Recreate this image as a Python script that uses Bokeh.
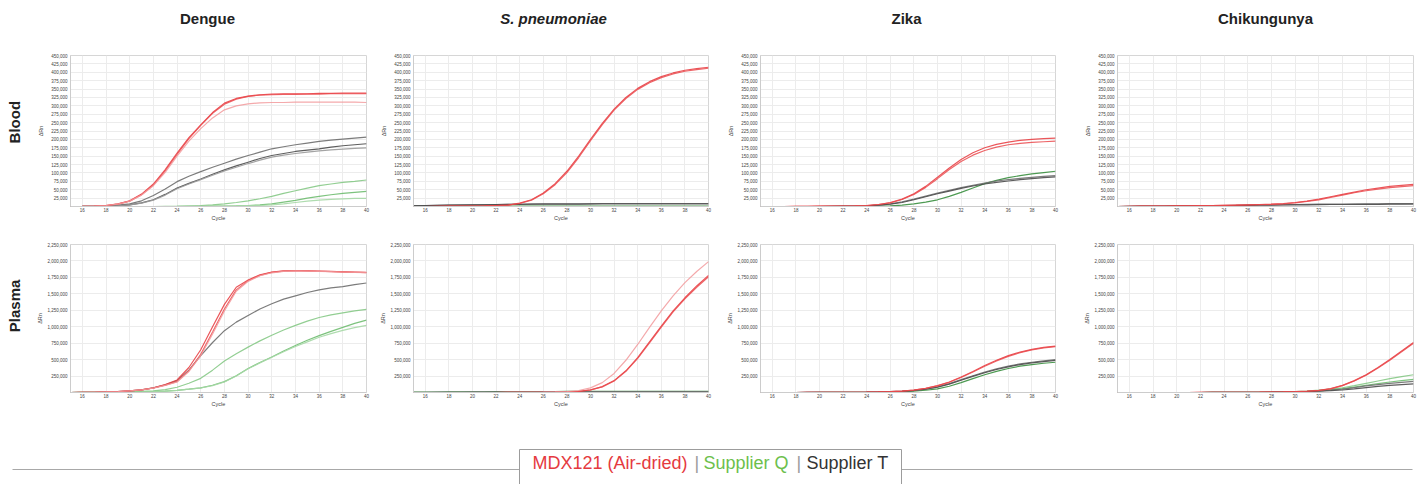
import numpy as np
from bokeh.plotting import figure
from bokeh.layouts import column, row
from bokeh.models import Range1d, FixedTicker, NumeralTickFormatter
from bokeh.embed import file_html
from bokeh.resources import INLINE
from bokeh.core.properties import value

# ---------------- data ----------------
cycles = list(range(15, 41))
x_ticks = list(range(16, 41, 2))
blood_y_ticks = list(range(25000, 450001, 25000))
plasma_y_ticks = list(range(250000, 2250001, 250000))

targets = ["Dengue", "S. pneumoniae", "Zika", "Chikungunya"]
samples = ["Blood", "Plasma"]
legend_labels = ["MDX121 (Air-dried)", "Supplier Q", "Supplier T"]

# ΔRn in thousands, one value per cycle 15..40
# ---- Blood ----
dengue_blood_mdx = [
    [0, 0.5, 1.5, 3, 8, 17, 37, 67, 110, 159, 205, 243, 280, 308, 322, 329, 333, 335, 336, 336, 336, 337, 337, 338, 338, 338],
    [0, 0.5, 1.5, 3, 7, 16, 35, 64, 106, 155, 202, 242, 278, 305, 320, 328, 332, 333, 334, 334, 335, 335, 336, 336, 336, 336],
    [0, 0.5, 1.5, 3, 7, 16, 34, 62, 102, 150, 195, 232, 264, 288, 300, 306, 309, 310, 310, 311, 311, 311, 311, 311, 311, 310],
]
dengue_blood_q = [
    [0, 0, 0, 0, 0, 0, 0, 0, 0.5, 1, 2, 3, 5, 8, 12, 17, 23, 30, 39, 47, 55, 62, 67, 72, 75, 79],
    [0, 0, 0, 0, 0, 0, 0, 0, 0, 0, 0, 0.5, 1, 1.5, 2, 3, 5, 8, 13, 18, 25, 30, 35, 39, 42, 45],
    [0, 0, 0, 0, 0, 0, 0, 0, 0, 0, 0, 0.5, 1, 1.5, 2, 2.5, 3, 5, 8, 12, 16, 19, 21, 23, 24, 24],
]
dengue_blood_t = [
    [0, 0.3, 1, 2, 4, 8, 17, 33, 52, 74, 90, 104, 117, 129, 141, 152, 162, 172, 178, 184, 189, 194, 198, 201, 204, 207],
    [0, 0.2, 0.5, 1, 2, 5, 11, 20, 36, 55, 69, 82, 96, 109, 121, 132, 143, 152, 158, 164, 168, 172, 177, 181, 184, 187],
    [0, 0.2, 0.5, 1, 2, 5, 10, 19, 34, 53, 67, 80, 93, 106, 117, 128, 138, 147, 153, 158, 162, 166, 169, 171, 173, 175],
]
spn_blood_mdx = [
    [0, 0, 0.5, 1, 1, 1.5, 2, 3, 4, 10, 20, 40, 68, 105, 150, 200, 248, 290, 325, 352, 372, 387, 398, 406, 411, 415],
    [0, 0, 0.5, 1, 1, 1.5, 2, 3, 4, 9, 19, 38, 65, 101, 146, 196, 244, 287, 322, 349, 369, 384, 395, 403, 408, 412],
]
spn_blood_q = [
    [1, 1, 1, 1, 1, 1, 1, 1, 1, 1, 1, 1, 1, 1, 1, 1, 1, 1, 1, 1, 1, 1, 1, 1, 1, 1],
]
spn_blood_t = [
    [3, 3, 4, 4, 5, 5, 6, 6, 7, 7, 7, 8, 8, 8, 8, 8, 9, 9, 9, 9, 9, 9, 9, 9, 9, 9],
    [2, 3, 3, 4, 4, 5, 5, 6, 6, 6, 7, 7, 7, 7, 7, 8, 8, 8, 8, 8, 8, 8, 8, 8, 8, 8],
]
zika_blood_mdx = [
    [0, 0, 0, 0.5, 0.5, 1, 1, 1.5, 2, 3, 6, 12, 22, 38, 60, 87, 115, 140, 160, 175, 185, 192, 197, 200, 202, 204],
    [0, 0, 0, 0.5, 0.5, 1, 1, 1.5, 2, 3, 6, 11, 21, 36, 57, 83, 110, 134, 153, 167, 177, 184, 188, 191, 193, 195],
]
zika_blood_q = [
    [0, 0, 0, 0, 0, 0, 0, 0, 0, 0.5, 1, 2, 4, 8, 13, 20, 30, 42, 55, 68, 78, 86, 92, 97, 101, 105],
]
zika_blood_t = [
    [0, 0, 0, 0, 0, 0, 0.5, 1, 1.5, 2, 4, 8, 14, 22, 31, 40, 48, 56, 63, 70, 76, 80, 84, 87, 90, 92],
    [0, 0, 0, 0, 0, 0, 0.5, 1, 1.5, 2, 4, 7, 12, 20, 29, 38, 46, 54, 61, 67, 72, 76, 80, 83, 86, 88],
]
chik_blood_mdx = [
    [0, 0.5, 1, 1, 1.5, 2, 2, 2.5, 3, 3.5, 4, 5, 6, 7, 9, 12, 16, 22, 29, 36, 43, 50, 55, 60, 63, 66],
    [0, 0.5, 1, 1, 1.5, 2, 2, 2.5, 3, 3.5, 4, 4.5, 5.5, 6.5, 8, 11, 15, 20, 27, 34, 41, 47, 52, 56, 59, 62],
]
chik_blood_q = [
    [0, 0, 0, 0, 0, 0, 0, 0, 0, 0, 0, 0, 0, 0, 0, 0, 0, 0, 0, 0, 0, 0, 0, 0, 0, 0],
]
chik_blood_t = [
    [0, 0.5, 1, 1, 1.5, 2, 2, 2.5, 3, 3, 3.5, 4, 4.5, 5, 5.5, 6, 6.5, 7, 7, 7.5, 8, 8, 8, 8.5, 8.5, 9],
    [0, 0.5, 1, 1, 1.5, 2, 2, 2, 2.5, 3, 3, 3.5, 4, 4, 4.5, 5, 5, 5.5, 6, 6, 6, 6.5, 6.5, 7, 7, 7],
]
# ---- Plasma ----
dengue_plasma_mdx = [
    [0, 2, 4, 8, 14, 24, 40, 70, 120, 190, 380, 650, 1000, 1340, 1600, 1710, 1790, 1830, 1850, 1855, 1850, 1845, 1840, 1835, 1830, 1825],
    [0, 2, 4, 8, 14, 24, 40, 68, 112, 165, 330, 580, 920, 1270, 1560, 1700, 1780, 1825, 1845, 1850, 1848, 1843, 1838, 1833, 1828, 1823],
    [0, 2, 4, 8, 14, 24, 40, 66, 108, 160, 320, 560, 890, 1240, 1540, 1690, 1775, 1820, 1842, 1848, 1846, 1842, 1837, 1832, 1827, 1822],
]
dengue_plasma_q = [
    [0, 1, 2, 4, 6, 10, 16, 26, 45, 80, 140, 215, 340, 480, 590, 690, 785, 870, 950, 1020, 1085, 1140, 1180, 1210, 1240, 1265],
    [0, 1, 1, 2, 3, 5, 8, 13, 20, 32, 50, 70, 110, 165, 255, 365, 455, 540, 630, 715, 795, 865, 930, 990, 1050, 1100],
    [0, 1, 1, 2, 3, 5, 8, 13, 20, 32, 50, 68, 105, 160, 250, 360, 450, 535, 620, 700, 770, 840, 895, 945, 985, 1020],
]
dengue_plasma_t = [
    [0, 2, 4, 8, 14, 24, 40, 70, 115, 180, 340, 560, 760, 940, 1070, 1170, 1270, 1350, 1420, 1470, 1520, 1560, 1590, 1610, 1640, 1665],
]
spn_plasma_mdx = [
    [0, 0, 0, 0, 0, 0, 0, 0, 1, 2, 3, 4, 6, 10, 18, 40, 90, 180, 330, 530, 770, 1010, 1240, 1440, 1620, 1780],
    [0, 0, 0, 0, 0, 0, 0, 0, 1, 2, 3, 4, 6, 10, 17, 38, 86, 174, 322, 520, 755, 995, 1225, 1425, 1600, 1760],
    [0, 0, 0, 0, 0, 0, 0, 0, 1, 2, 3, 5, 8, 15, 30, 70, 150, 290, 490, 730, 990, 1240, 1470, 1670, 1840, 1990],
]
spn_plasma_q = [
    [5, 6, 7, 8, 9, 10, 11, 12, 13, 14, 14, 15, 15, 16, 16, 16, 17, 17, 17, 17, 18, 18, 18, 18, 18, 18],
]
spn_plasma_t = [
    [3, 4, 5, 6, 7, 8, 9, 10, 10, 11, 11, 12, 12, 12, 13, 13, 13, 13, 13, 14, 14, 14, 14, 14, 14, 14],
]
zika_plasma_mdx = [
    [0, 0, 0, 0, 1, 1, 2, 3, 4, 6, 9, 14, 22, 38, 65, 105, 160, 235, 320, 410, 490, 560, 615, 655, 685, 705],
    [0, 0, 0, 0, 1, 1, 2, 3, 4, 6, 9, 14, 21, 36, 62, 100, 155, 228, 312, 400, 480, 550, 606, 648, 678, 698],
]
zika_plasma_q = [
    [0, 0, 0, 0, 0, 1, 1, 2, 3, 4, 6, 9, 14, 22, 34, 55, 95, 150, 210, 270, 320, 365, 400, 425, 445, 460],
]
zika_plasma_t = [
    [0, 0, 0, 0, 1, 1, 2, 3, 4, 6, 9, 13, 20, 32, 52, 85, 135, 195, 255, 310, 360, 400, 435, 460, 482, 500],
    [0, 0, 0, 0, 1, 1, 2, 3, 4, 6, 9, 13, 19, 30, 49, 80, 128, 186, 245, 300, 350, 390, 425, 450, 470, 488],
]
chik_plasma_mdx = [
    [0, 0, 0, 0, 0, 0, 0, 1, 1, 2, 3, 4, 5, 7, 10, 14, 20, 32, 58, 108, 180, 270, 380, 500, 630, 760],
    [0, 0, 0, 0, 0, 0, 0, 1, 1, 2, 3, 4, 5, 7, 10, 14, 19, 30, 55, 104, 175, 264, 372, 492, 620, 748],
]
chik_plasma_q = [
    [0, 0, 0, 0, 0, 0, 0, 0, 1, 1, 2, 3, 4, 6, 9, 13, 20, 35, 52, 72, 105, 140, 175, 210, 240, 270],
    [0, 0, 0, 0, 0, 0, 0, 0, 1, 1, 2, 3, 4, 6, 8, 11, 16, 26, 40, 58, 84, 110, 135, 160, 180, 200],
]
chik_plasma_t = [
    [0, 0, 0, 0, 0, 0, 0, 0, 1, 1, 2, 3, 4, 5, 7, 10, 15, 24, 36, 50, 75, 100, 120, 140, 155, 170],
    [0, 0, 0, 0, 0, 0, 0, 0, 1, 1, 2, 3, 4, 5, 6, 8, 12, 19, 28, 38, 56, 75, 92, 108, 120, 132],
]

blood_groups = [
    (dengue_blood_mdx, dengue_blood_q, dengue_blood_t),
    (spn_blood_mdx, spn_blood_q, spn_blood_t),
    (zika_blood_mdx, zika_blood_q, zika_blood_t),
    (chik_blood_mdx, chik_blood_q, chik_blood_t),
]
plasma_groups = [
    (dengue_plasma_mdx, dengue_plasma_q, dengue_plasma_t),
    (spn_plasma_mdx, spn_plasma_q, spn_plasma_t),
    (zika_plasma_mdx, zika_plasma_q, zika_plasma_t),
    (chik_plasma_mdx, chik_plasma_q, chik_plasma_t),
]

# ---------------- styling ----------------
FONT = "Liberation Sans"
RED = ["#e8383d", "#ea4a4e", "#f29a9c"]
GREEN_LIGHT = ["#86c986", "#6fbd70", "#a6d8a6"]
GREEN_DARK = ["#3a8f3f", "#4fa052", "#6fbd70"]
BLACK = ["#6e6e6e", "#4c4c4c", "#9a9a9a"]

blood_green = [GREEN_LIGHT, GREEN_DARK, GREEN_DARK, GREEN_LIGHT]
plasma_green = [GREEN_LIGHT, GREEN_DARK, GREEN_DARK, GREEN_LIGHT]

# layout geometry: (min_border_left, frame_width, min_border_right)
cols_geom = [(46, 296, 5), (42, 295, 10), (42, 295, 20), (42, 296, 11)]
LABEL_W = 24
TOTAL_W = 1424


def make_panel(groups, geom, ymax, yticks, frame_h, mbt, mbb, ylab_standoff, greens):
    mbl, fw, mbr = geom
    p = figure(frame_width=fw, frame_height=frame_h,
               min_border_left=mbl, min_border_right=mbr,
               min_border_top=mbt, min_border_bottom=mbb,
               x_range=Range1d(15, 40), y_range=Range1d(0, ymax),
               toolbar_location=None, output_backend="svg")
    mdx, q, t = groups
    for i, c in enumerate(q):
        p.line(cycles, [v * 1000 for v in c], line_color=greens[i % 3], line_width=1.2, line_alpha=0.9)
    for i, c in enumerate(t):
        p.line(cycles, [v * 1000 for v in c], line_color=BLACK[i % 3], line_width=1.2, line_alpha=0.9)
    for i, c in enumerate(mdx):
        p.line(cycles, [v * 1000 for v in c], line_color=RED[i % 3], line_width=1.2, line_alpha=0.85)

    p.xaxis.ticker = FixedTicker(ticks=x_ticks)
    p.yaxis.ticker = FixedTicker(ticks=yticks)
    p.yaxis.formatter = NumeralTickFormatter(format="0,0")
    p.xaxis.axis_label = "Cycle"
    p.yaxis.axis_label = "ΔRn"
    for ax in (p.xaxis, p.yaxis):
        ax.major_label_text_font = FONT
        ax.major_label_text_font_size = "4.5px"
        ax.major_label_text_color = "#444444"
        ax.axis_label_text_font = FONT
        ax.axis_label_text_font_size = "5.5px"
        ax.axis_label_text_font_style = "normal"
        ax.axis_label_text_color = "#444444"
        ax.major_tick_out = 0
        ax.major_tick_in = 0
        ax.minor_tick_out = 0
        ax.minor_tick_in = 0
        ax.axis_line_color = "#cccccc"
    p.xaxis.major_label_standoff = 1
    p.xaxis.axis_label_standoff = 0
    p.yaxis.major_label_standoff = 3
    p.yaxis.axis_label_standoff = ylab_standoff
    p.grid.grid_line_color = "#ececec"
    p.outline_line_color = "#d6d6d6"
    p.background_fill_color = "white"
    p.border_fill_color = "white"
    return p


def text_fig(w, h):
    p = figure(width=w, height=h, x_range=Range1d(0, w), y_range=Range1d(0, h),
               min_border=0, toolbar_location=None, output_backend="svg",
               x_axis_type=None, y_axis_type=None)
    p.grid.visible = False
    p.outline_line_color = None
    return p


# title strip
TITLE_H = 38
title_fig = text_fig(TOTAL_W, TITLE_H)
title_x = [207, 553, 906, 1265]
for i, t in enumerate(targets):
    style = "bold italic" if t.startswith("S.") else "bold"
    title_fig.text(x=[title_x[i]], y=[TITLE_H - 18], text=[t], text_font=value(FONT),
                   text_font_size="15px", text_font_style=style, text_align="center",
                   text_baseline="middle", text_color="#222222")

ROW_H = 188
rows = []
for r, (groups_row, ymax, yticks, fh, mbt, mbb, yls, label_y, greens) in enumerate([
        (blood_groups, 450000, blood_y_ticks, 151, 17, 20, 4, 105, blood_green),
        (plasma_groups, 2250000, plasma_y_ticks, 148, 18, 22, 1, 110, plasma_green)]):
    lab = text_fig(LABEL_W, ROW_H)
    lab.text(x=[14], y=[label_y], text=[samples[r]], angle=np.pi / 2, text_font=value(FONT),
             text_font_size="15px", text_font_style="bold", text_align="center",
             text_baseline="middle", text_color="#222222")
    panels = [make_panel(groups_row[c], cols_geom[c], ymax, yticks, fh, mbt, mbb, yls, greens[c])
              for c in range(4)]
    rows.append(row([lab] + panels, spacing=0))

# legend strip (reference y 414..484, data y measured upward from the bottom)
LEG_H = 70
leg = text_fig(TOTAL_W, LEG_H)
box_l, box_r, box_top = 519, 901, 35
line_y = 15
leg.segment(x0=[12, box_r], y0=[line_y, line_y], x1=[box_l, 1412], y1=[line_y, line_y],
            line_color="#a8a8a8", line_width=1)
leg.quad(left=[box_l], right=[box_r], bottom=[-20], top=[box_top], fill_color="white",
         line_color="#9c9c9c", line_width=1)
parts = [(legend_labels[0], "#e53a3f", 532), ("|", "#9a9a9a", 694),
         (legend_labels[1], "#6dbf4c", 703), ("|", "#9a9a9a", 796),
         (legend_labels[2], "#333333", 806)]
for txt, col, xx in parts:
    leg.text(x=[xx], y=[22], text=[txt], text_font=value(FONT), text_font_size="18px",
             text_color=col, text_align="left", text_baseline="alphabetic")

layout = column([title_fig] + rows + [leg], spacing=0)
open("out.html", "w").write(file_html(layout, INLINE))
